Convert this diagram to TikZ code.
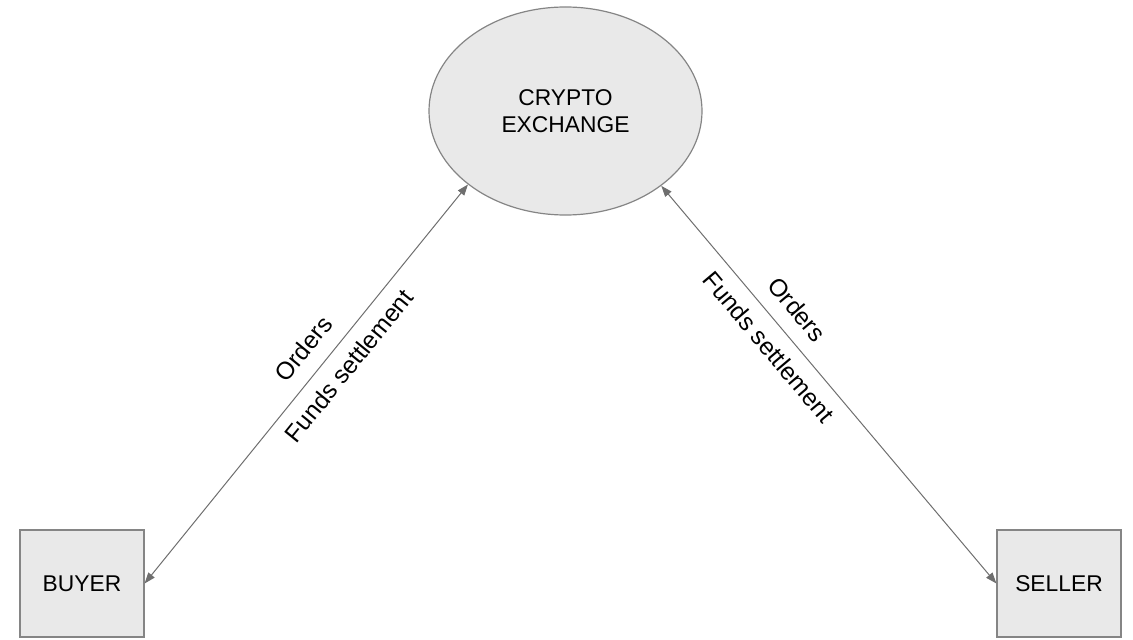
\documentclass[tikz,border=0pt]{standalone}
\usepackage{fontspec}
\setmainfont{Liberation Sans}
\usetikzlibrary{arrows.meta,shapes.geometric}

\definecolor{boxfill}{HTML}{E9E9E9}
\definecolor{boxline}{HTML}{858585}
\definecolor{linkline}{HTML}{6E6E6E}

\tikzset{
  party/.style={draw=boxline, line width=1.2bp, fill=boxfill, minimum width=124bp,
    minimum height=107bp, inner sep=0pt, font=\fontsize{22.8bp}{27.4bp}\selectfont},
  hub/.style={ellipse, draw=boxline, line width=1.2bp, fill=boxfill, minimum width=273bp,
    minimum height=208bp, inner sep=0pt, align=center,
    font=\fontsize{22.8bp}{27.6bp}\selectfont},
  link/.style={draw=linkline, line width=1bp,
    {Triangle[length=11bp,width=8bp]}-{Triangle[length=11bp,width=8bp]}},
  linklabel/.style={sloped, inner sep=0pt, text=black,
    font=\fontsize{24.5bp}{29bp}\selectfont}
}

\begin{document}
\begin{tikzpicture}[x=1bp, y=-1bp]
  \useasboundingbox (0,0) rectangle (1133,640);

  % exchange in the middle, parties at the bottom corners
  \node[hub] (exch) at (565.5,111) {CRYPTO\\EXCHANGE};
  \node[party] (buyer) at (82,583.5) {BUYER};
  \node[party] (seller) at (1059,583.5) {SELLER};

  % two-way links with their labels
  \draw[link] (buyer.east) -- (exch.217)
    node[linklabel, pos=0.55, above=15bp] {Orders}
    node[linklabel, pos=0.58, below=12bp] {Funds settlement};
  \draw[link] (exch.-38) -- (seller.west)
    node[linklabel, pos=0.35, above=15bp] {Orders}
    node[linklabel, pos=0.37, below=12bp] {Funds settlement};
\end{tikzpicture}
\end{document}
